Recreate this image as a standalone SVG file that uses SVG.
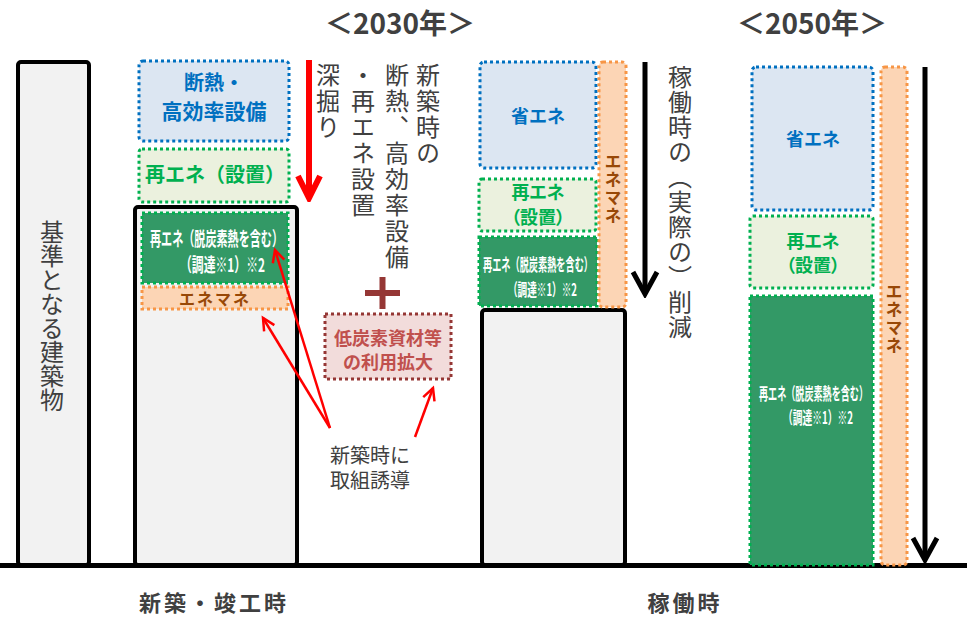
<svg xmlns="http://www.w3.org/2000/svg" width="967" height="618" viewBox="0 0 967 618">
<style>
text{font-family:"Noto Sans CJK JP","Noto Sans",sans-serif;}
.bld{fill:#f2f2f2;stroke:#000;stroke-width:4;}
.blue{fill:#dce6f2;stroke:#0070c0;stroke-width:3;stroke-dasharray:3 3;}
.lgreen{fill:#ebf1de;stroke:#00b050;stroke-width:3;stroke-dasharray:3 3;}
.dgreen{fill:#339966;stroke:#00b050;stroke-width:3;stroke-dasharray:3 3;}
.orange{fill:#fcd5b5;stroke:#f79646;stroke-width:3;stroke-dasharray:3 3;}
.lowc{fill:#f2dcdb;stroke:#953735;stroke-width:3;stroke-dasharray:3 3;}
.tblue{fill:#0070c0;font-weight:bold;text-anchor:middle;}
.tgreen{fill:#00b050;font-weight:bold;text-anchor:middle;}
.twhite{fill:#ffffff;font-weight:bold;}
.tbrown{fill:#984807;font-weight:bold;}
.tred{fill:#c0504d;font-weight:bold;text-anchor:middle;font-size:18px;}
.tgray{fill:#404040;}
.vert{writing-mode:vertical-rl;}
.palt{font-feature-settings:"palt";}
</style>
<defs>
<marker id="bigRed" markerUnits="userSpaceOnUse" viewBox="-28 -16 32 32" markerWidth="32" markerHeight="32" refX="0" refY="0" orient="auto">
<path d="M-22,-11 L0,0 L-22,11" fill="none" stroke="#ff0000" stroke-width="6"/>
</marker>
<marker id="bigBlack" markerUnits="userSpaceOnUse" viewBox="-28 -16 32 32" markerWidth="32" markerHeight="32" refX="0" refY="0" orient="auto">
<path d="M-22,-12 L0,0 L-22,12" fill="none" stroke="#000000" stroke-width="5"/>
</marker>
<marker id="thinRed" markerUnits="userSpaceOnUse" viewBox="-16 -10 20 20" markerWidth="20" markerHeight="20" refX="0" refY="0" orient="auto">
<path d="M-12,-6 L0,0 L-12,6" fill="none" stroke="#ff0000" stroke-width="2.5"/>
</marker>
</defs>

<rect id="ground" x="0" y="563" width="967" height="5" fill="#000"/>

<g id="titles" class="tgray" font-weight="bold" font-size="28" text-anchor="middle">
<text x="400" y="34">＜2030年＞</text>
<text x="812" y="34">＜2050年＞</text>
</g>

<g id="base-building">
<rect class="bld" x="18" y="62" width="71" height="503" rx="3"/>
<text class="tgray vert" x="52" y="220" font-size="24">基準となる建築物</text>
</g>

<g id="newbuild-building">
<rect class="bld" x="135" y="207" width="162" height="358" rx="3"/>
</g>
<g id="n-dannetsu">
<rect class="blue" x="139" y="61" width="150" height="80" rx="4"/>
<text class="tblue" x="214" y="90" font-size="20">断熱・</text>
<text class="tblue" x="214" y="119" font-size="21">高効率設備</text>
</g>
<g id="n-saiene-setchi">
<rect class="lgreen" x="139" y="149" width="150" height="53" rx="3"/>
<text class="tgreen" x="215" y="182" font-size="20">再エネ（設置）</text>
</g>
<g id="n-saiene-chotatsu">
<rect class="dgreen" x="142" y="213" width="146" height="70"/>
<text class="twhite" x="150" y="246" font-size="19" textLength="133" lengthAdjust="spacingAndGlyphs">再エネ（脱炭素熱を含む）</text>
<text class="twhite" x="180" y="272" font-size="19" textLength="85" lengthAdjust="spacingAndGlyphs">（調達※1）※2</text>
</g>
<g id="n-enemane">
<rect class="orange" x="142" y="287" width="146" height="22"/>
<text class="tbrown" x="215" y="305" font-size="16" letter-spacing="2" text-anchor="middle">エネマネ</text>
</g>

<g id="deepen-text" class="tgray vert" font-size="24">
<text x="428" y="63" letter-spacing="2">新築時の</text>
<text x="397" y="63" letter-spacing="2">断熱、高効率設備</text>
<text x="363" y="63" letter-spacing="2">・再エネ設置</text>
<text x="328" y="63" letter-spacing="2">深掘り</text>
</g>

<g id="plus">
<path d="M365,293 H400 M382.5,277 V309" stroke="#953735" stroke-width="6" fill="none"/>
</g>

<g id="low-carbon">
<rect class="lowc" x="325" y="314" width="126" height="65"/>
<text class="tred" x="388" y="345">低炭素資材等</text>
<text class="tred" x="388" y="369">の利用拡大</text>
</g>

<g id="induce-text" class="tgray" font-size="20" text-anchor="middle">
<text x="370" y="463">新築時に</text>
<text x="370" y="488">取組誘導</text>
</g>

<g id="op-building">
<rect class="bld" x="482" y="310" width="143" height="255" rx="3"/>
</g>
<g id="o-shoene">
<rect class="blue" x="480" y="62" width="116" height="106" rx="4"/>
<text class="tblue" x="538" y="123" font-size="18">省エネ</text>
</g>
<g id="o-saiene-setchi">
<rect class="lgreen" x="479" y="179" width="117" height="52" rx="3"/>
<text class="tgreen palt" x="538" y="199" font-size="18">再エネ</text>
<text class="tgreen palt" x="538" y="224" font-size="18">（設置）</text>
</g>
<g id="o-saiene-chotatsu">
<rect class="dgreen" x="479" y="237" width="118" height="69"/>
<text class="twhite" x="483" y="271" font-size="17" textLength="110" lengthAdjust="spacingAndGlyphs">再エネ（脱炭素熱を含む）</text>
<text class="twhite" x="508" y="296" font-size="17" textLength="69" lengthAdjust="spacingAndGlyphs">（調達※1）※2</text>
</g>
<g id="o-enemane">
<rect class="orange" x="599" y="62" width="27" height="245" rx="4"/>
<text class="tbrown vert" x="613" y="153" font-size="17" letter-spacing="1">エネマネ</text>
</g>
<g id="reduce-text">
<text class="tgray vert" x="680" y="65" font-size="24" letter-spacing="1">稼働時の（実際の）削減</text>
</g>

<g id="f-shoene">
<rect class="blue" x="752" y="67" width="121" height="143" rx="4"/>
<text class="tblue" x="813" y="146" font-size="18">省エネ</text>
</g>
<g id="f-saiene-setchi">
<rect class="lgreen" x="750" y="216" width="123" height="72" rx="3"/>
<text class="tgreen palt" x="813" y="248" font-size="18">再エネ</text>
<text class="tgreen palt" x="813" y="272" font-size="18">（設置）</text>
</g>
<g id="f-saiene-chotatsu">
<rect class="dgreen" x="750" y="296" width="123" height="269"/>
<text class="twhite" x="759" y="400" font-size="17" textLength="109" lengthAdjust="spacingAndGlyphs">再エネ（脱炭素熱を含む）</text>
<text class="twhite" x="783" y="424" font-size="17" textLength="70" lengthAdjust="spacingAndGlyphs">（調達※1）※2</text>
</g>
<g id="f-enemane">
<rect class="orange" x="881" y="67" width="26" height="498" rx="4"/>
<text class="tbrown vert" x="894" y="283" font-size="17" letter-spacing="1">エネマネ</text>
</g>

<g id="bottom-labels" class="tgray" font-weight="bold" font-size="22" letter-spacing="3" text-anchor="middle">
<text x="214" y="611">新築・竣工時</text>
<text x="685" y="611">稼働時</text>
</g>

<g id="connectors" fill="none">
<line x1="309" y1="60" x2="309" y2="198" stroke="#ff0000" stroke-width="6" marker-end="url(#bigRed)"/>
<line x1="645" y1="62" x2="645" y2="294" stroke="#000" stroke-width="5" marker-end="url(#bigBlack)"/>
<line x1="925" y1="67" x2="925" y2="560" stroke="#000" stroke-width="5" marker-end="url(#bigBlack)"/>
<line x1="330" y1="428" x2="275" y2="250" stroke="#ff0000" stroke-width="2.5" marker-end="url(#thinRed)"/>
<line x1="330" y1="428" x2="263" y2="318" stroke="#ff0000" stroke-width="2.5" marker-end="url(#thinRed)"/>
<line x1="415" y1="437" x2="433" y2="388" stroke="#ff0000" stroke-width="2.5" marker-end="url(#thinRed)"/>
</g>
</svg>
